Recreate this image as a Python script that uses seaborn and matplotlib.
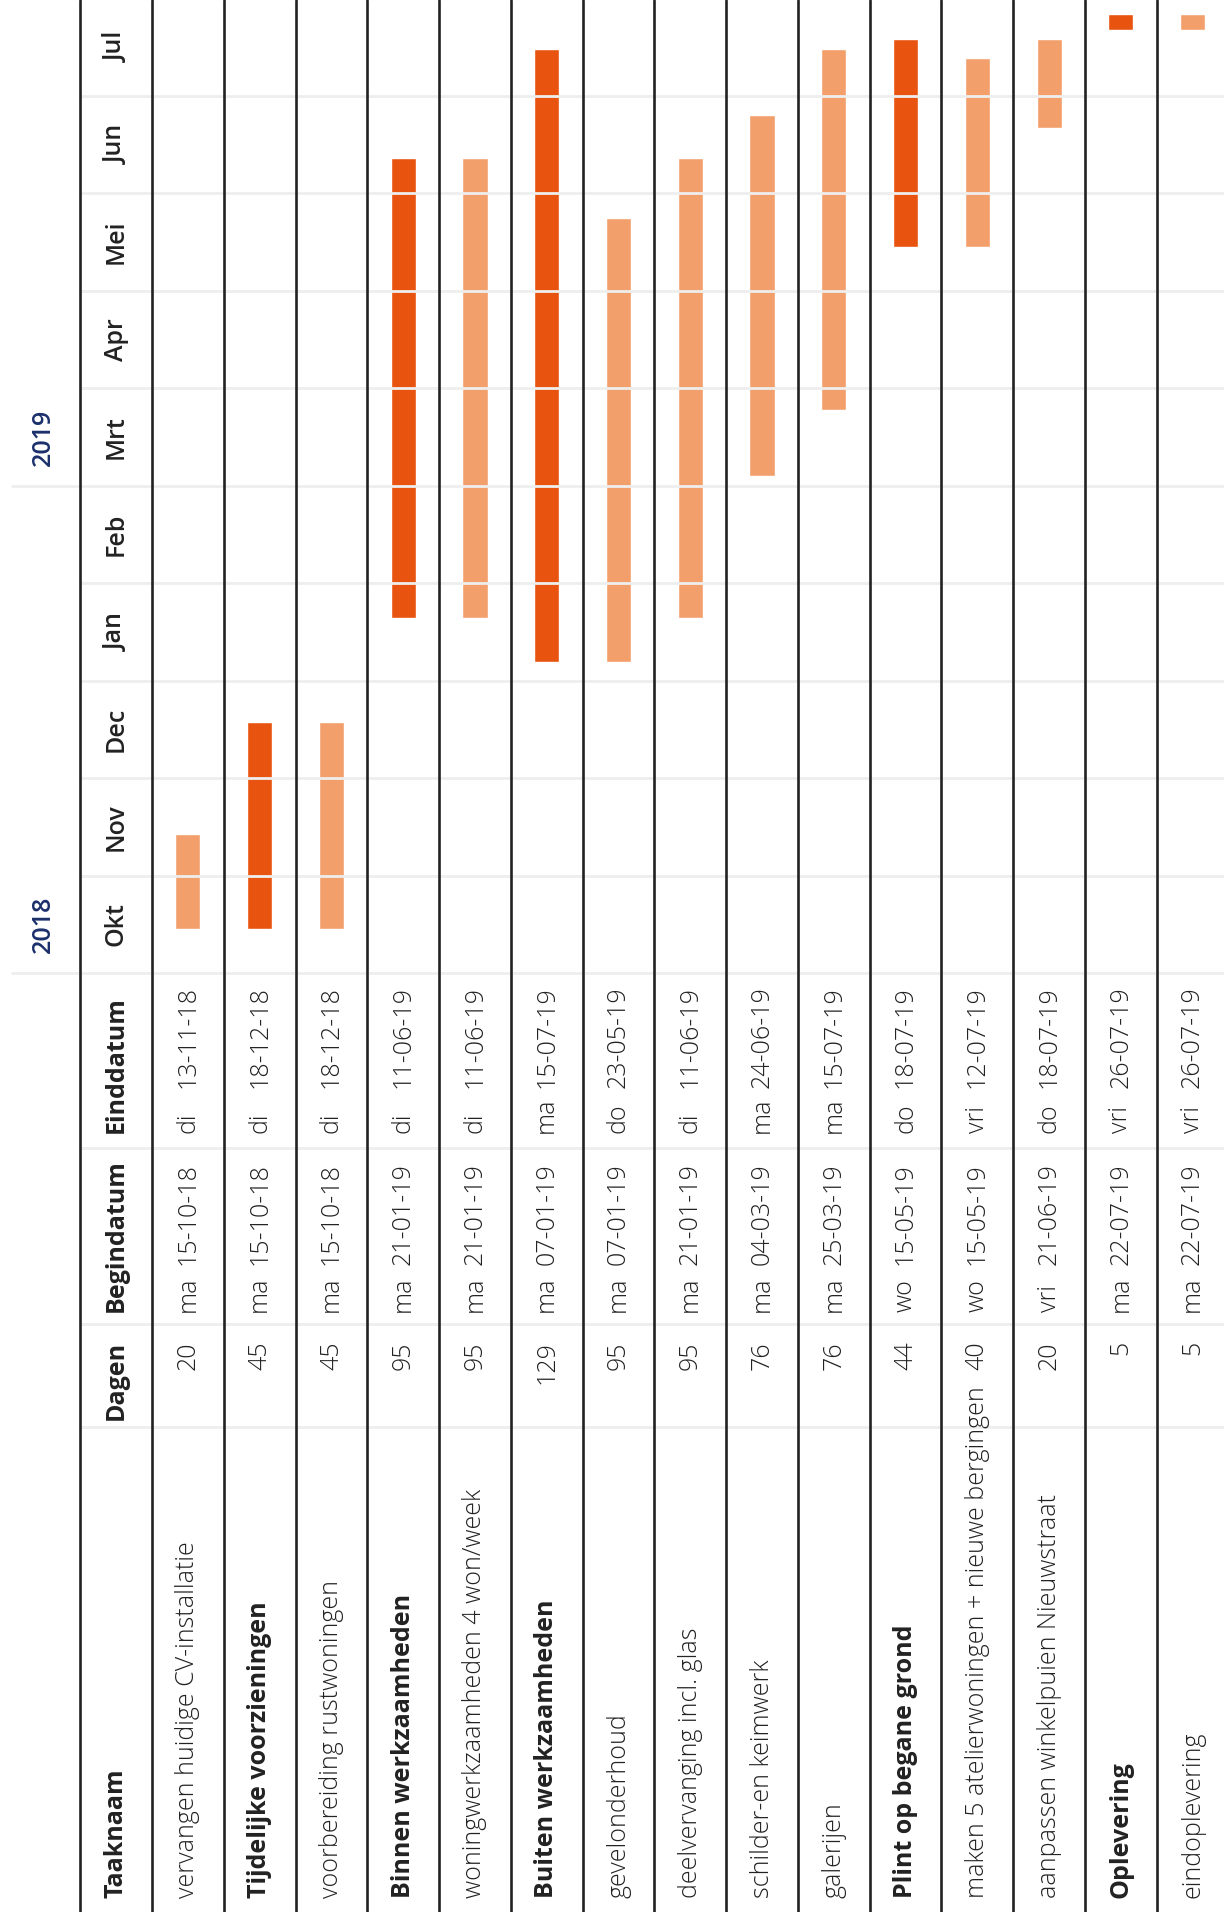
import calendar
import matplotlib
matplotlib.use("Agg")
import matplotlib.pyplot as plt
import seaborn as sns

sns.set_style("white")
plt.rcParams["font.family"] = ["Open Sans", "DejaVu Sans"]

# ---- data ----
tasks = [
    "vervangen huidige CV-installatie",
    "Tijdelijke voorzieningen",
    "voorbereiding rustwoningen",
    "Binnen werkzaamheden",
    "woningwerkzaamheden 4 won/week",
    "Buiten werkzaamheden",
    "gevelonderhoud",
    "deelvervanging incl. glas",
    "schilder-en keimwerk",
    "galerijen",
    "Plint op begane grond",
    "maken 5 atelierwoningen + nieuwe bergingen",
    "aanpassen winkelpuien Nieuwstraat",
    "Oplevering",
    "eindoplevering",
]
is_group = [0, 1, 0, 1, 0, 1, 0, 0, 0, 0, 1, 0, 0, 1, 0]
dagen = [20, 45, 45, 95, 95, 129, 95, 95, 76, 76, 44, 40, 20, 5, 5]
start_day = ["ma", "ma", "ma", "ma", "ma", "ma", "ma", "ma", "ma", "ma",
             "wo", "wo", "vri", "ma", "ma"]
start_date = ["15-10-18", "15-10-18", "15-10-18", "21-01-19", "21-01-19",
              "07-01-19", "07-01-19", "21-01-19", "04-03-19", "25-03-19",
              "15-05-19", "15-05-19", "21-06-19", "22-07-19", "22-07-19"]
end_day = ["di", "di", "di", "di", "di", "ma", "do", "di", "ma", "ma",
           "do", "vri", "do", "vri", "vri"]
end_date = ["13-11-18", "18-12-18", "18-12-18", "11-06-19", "11-06-19",
            "15-07-19", "23-05-19", "11-06-19", "24-06-19", "15-07-19",
            "18-07-19", "12-07-19", "18-07-19", "26-07-19", "26-07-19"]
months = ["Okt", "Nov", "Dec", "Jan", "Feb", "Mrt", "Apr", "Mei", "Jun", "Jul"]
years = ["2018", "2019"]
year_month = [0, 5]  # month index the year label sits on

headers = ["Taaknaam", "Dagen", "Begindatum", "Einddatum"]

dark = "#e8540f"
light = "#f39f6c"
ink = "#222222"
grid = "#eeeeee"
navy = "#1b2f6b"


def month_pos(s, end=False):
    """date string dd-mm-yy -> position on a month based axis (Okt 2018 = 0)"""
    d, m, y = [int(p) for p in s.split("-")]
    y += 2000
    idx = (y - 2018) * 12 + m - 10
    ndays = calendar.monthrange(y, m)[1]
    return idx + (d if end else d - 1) / ndays


starts = [month_pos(s) for s in start_date]
ends = [month_pos(s, end=True) for s in end_date]

# ---- layout (pixels of the 1224 x 1912 canvas) ----
W, H = 1224, 1912
row0, row_w = 80.3, 71.76
split = 973.3
month_h = 97.5
xlim = (-row0 / row_w, (W - row0) / row_w)

fig = plt.figure(figsize=(W / 100, H / 100), dpi=100)
ax = fig.add_axes([0, 1 - split / H, 1, split / H])
tab = fig.add_axes([0, 0, 1, 1 - split / H])
for a in (ax, tab):
    a.set_xlim(*xlim)
    a.set_axis_off()
ax.set_ylim(0, split / month_h)
tab.set_ylim(H, split)

fs = 18
vals = dict(fontsize=fs, fontweight="light", color=ink, rotation=90, ha="center")
bold = dict(fontsize=fs, fontweight="bold", color=ink, rotation=90, ha="center")

# ---- gantt bars ----
xs = [i + 1.5 for i in range(len(tasks))]
colors = [dark if g else light for g in is_group]
heights = [e - s for s, e in zip(starts, ends)]
ax.bar(xs, heights, bottom=starts, width=0.35, color=colors, zorder=2)

# month grid, drawn on top of the bars
x_grid = row0 / W
for v in range(0, len(months) + 1):
    xmin = 12 / W if v in year_month else x_grid
    ax.axhline(v, xmin=xmin, xmax=1, color=grid, lw=2, zorder=3, clip_on=False)
for y in (1148, 1324, 1427):
    tab.axhline(y, xmin=x_grid, xmax=1, color=grid, lw=2, zorder=1)

# row separators
for a in (ax, tab):
    for k in range(len(tasks) + 1):
        a.axvline(k, color=ink, lw=1.9, zorder=5)

# month + year labels
for i, m in enumerate(months):
    ax.text(0.5, i + 0.5, m, va="center", fontsize=fs, fontweight="semibold",
            color=ink, rotation=90, ha="center", zorder=6)
for yr, mi in zip(years, year_month):
    ax.text(-0.51, mi + 0.5, yr, va="center", fontsize=fs, fontweight="semibold",
            color=navy, rotation=90, ha="center")

# table headers
tab.text(0.5, 1898, headers[0], va="bottom", **bold)
tab.text(0.5, 1341, headers[1], va="top", **bold)
tab.text(0.5, 1312, headers[2], va="bottom", **bold)
tab.text(0.5, 1133, headers[3], va="bottom", **bold)

# table rows
for i, name in enumerate(tasks):
    x = i + 1.5
    style = bold if is_group[i] else vals
    tab.text(x, 1898, name, va="bottom", **style)
    tab.text(x, 1341, str(dagen[i]), va="top", **vals)
    tab.text(x, 1312, start_day[i], va="bottom", **vals)
    tab.text(x, 1163, start_date[i], va="top", **vals)
    tab.text(x, 1133, end_day[i], va="bottom", **vals)
    tab.text(x, 986, end_date[i], va="top", **vals)

fig.savefig("out.png", dpi=100, facecolor="white")
